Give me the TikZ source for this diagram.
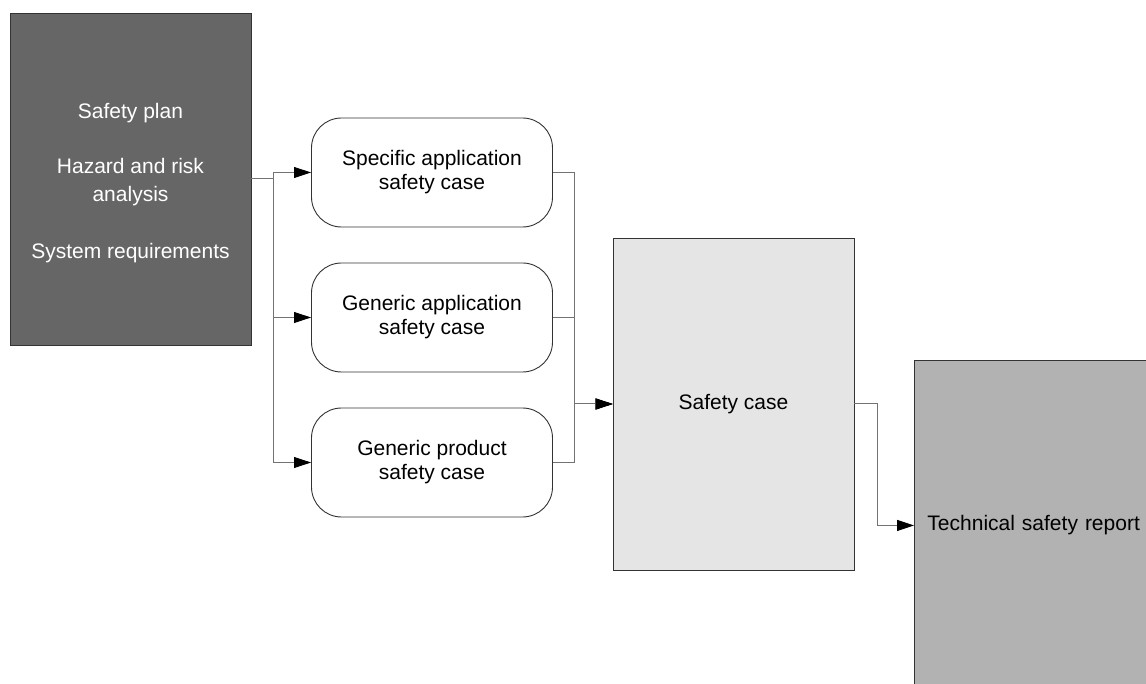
\documentclass[tikz,border=0pt]{standalone}
\usepackage{fontspec}
\setmainfont{Liberation Sans}
\usetikzlibrary{arrows.meta}
\begin{document}
\begin{tikzpicture}[x=1pt,y=-1pt,
  box/.style={draw=black!80, line width=0.9pt, minimum width=241pt, inner sep=0pt,
    font=\fontsize{21}{24}\selectfont, align=center},
  rbox/.style={box, rounded corners=30pt, minimum height=109pt, fill=white},
  conn/.style={draw=black!55, line width=1pt, -{Triangle[length=17pt,width=11pt,black]}}]
\clip (0,0) rectangle (1146,684);
\fill[white] (0,0) rectangle (1146,684);
\node[box, fill=black!60, text=white, minimum height=332pt,
  font=\fontsize{21}{28}\selectfont] (src) at (130.5,179)
  {\rule{0pt}{23pt}Safety plan\\[27pt]Hazard and risk\\analysis\\[29pt]System requirements};
\node[rbox] (sa) at (432,172.5) {Specific application\\safety case};
\node[rbox] (ga) at (432,317.5) {Generic application\\safety case};
\node[rbox] (gp) at (432,462.5) {Generic product\\safety case};
\node[box, fill=black!10, minimum height=332pt] (sc) at (733.5,404) {Safety case};
\node[box, fill=black!30, minimum width=240pt, minimum height=330pt,
  text width=215pt, inner xsep=13pt, align=left, anchor=north west] (tsr) at (914,360)
  {Technical safety report};
\draw[conn] (src.east) -- ++(22,0) |- (sa.west);
\draw[conn] (src.east) -- ++(22,0) |- (ga.west);
\draw[conn] (src.east) -- ++(22,0) |- (gp.west);
\draw[conn] (sa.east) -- ++(22,0) |- (sc.west);
\draw[conn] (ga.east) -- ++(22,0) |- (sc.west);
\draw[conn] (gp.east) -- ++(22,0) |- (sc.west);
\draw[conn] (sc.east) -- ++(23,0) |- (tsr.west);
\end{tikzpicture}
\end{document}
